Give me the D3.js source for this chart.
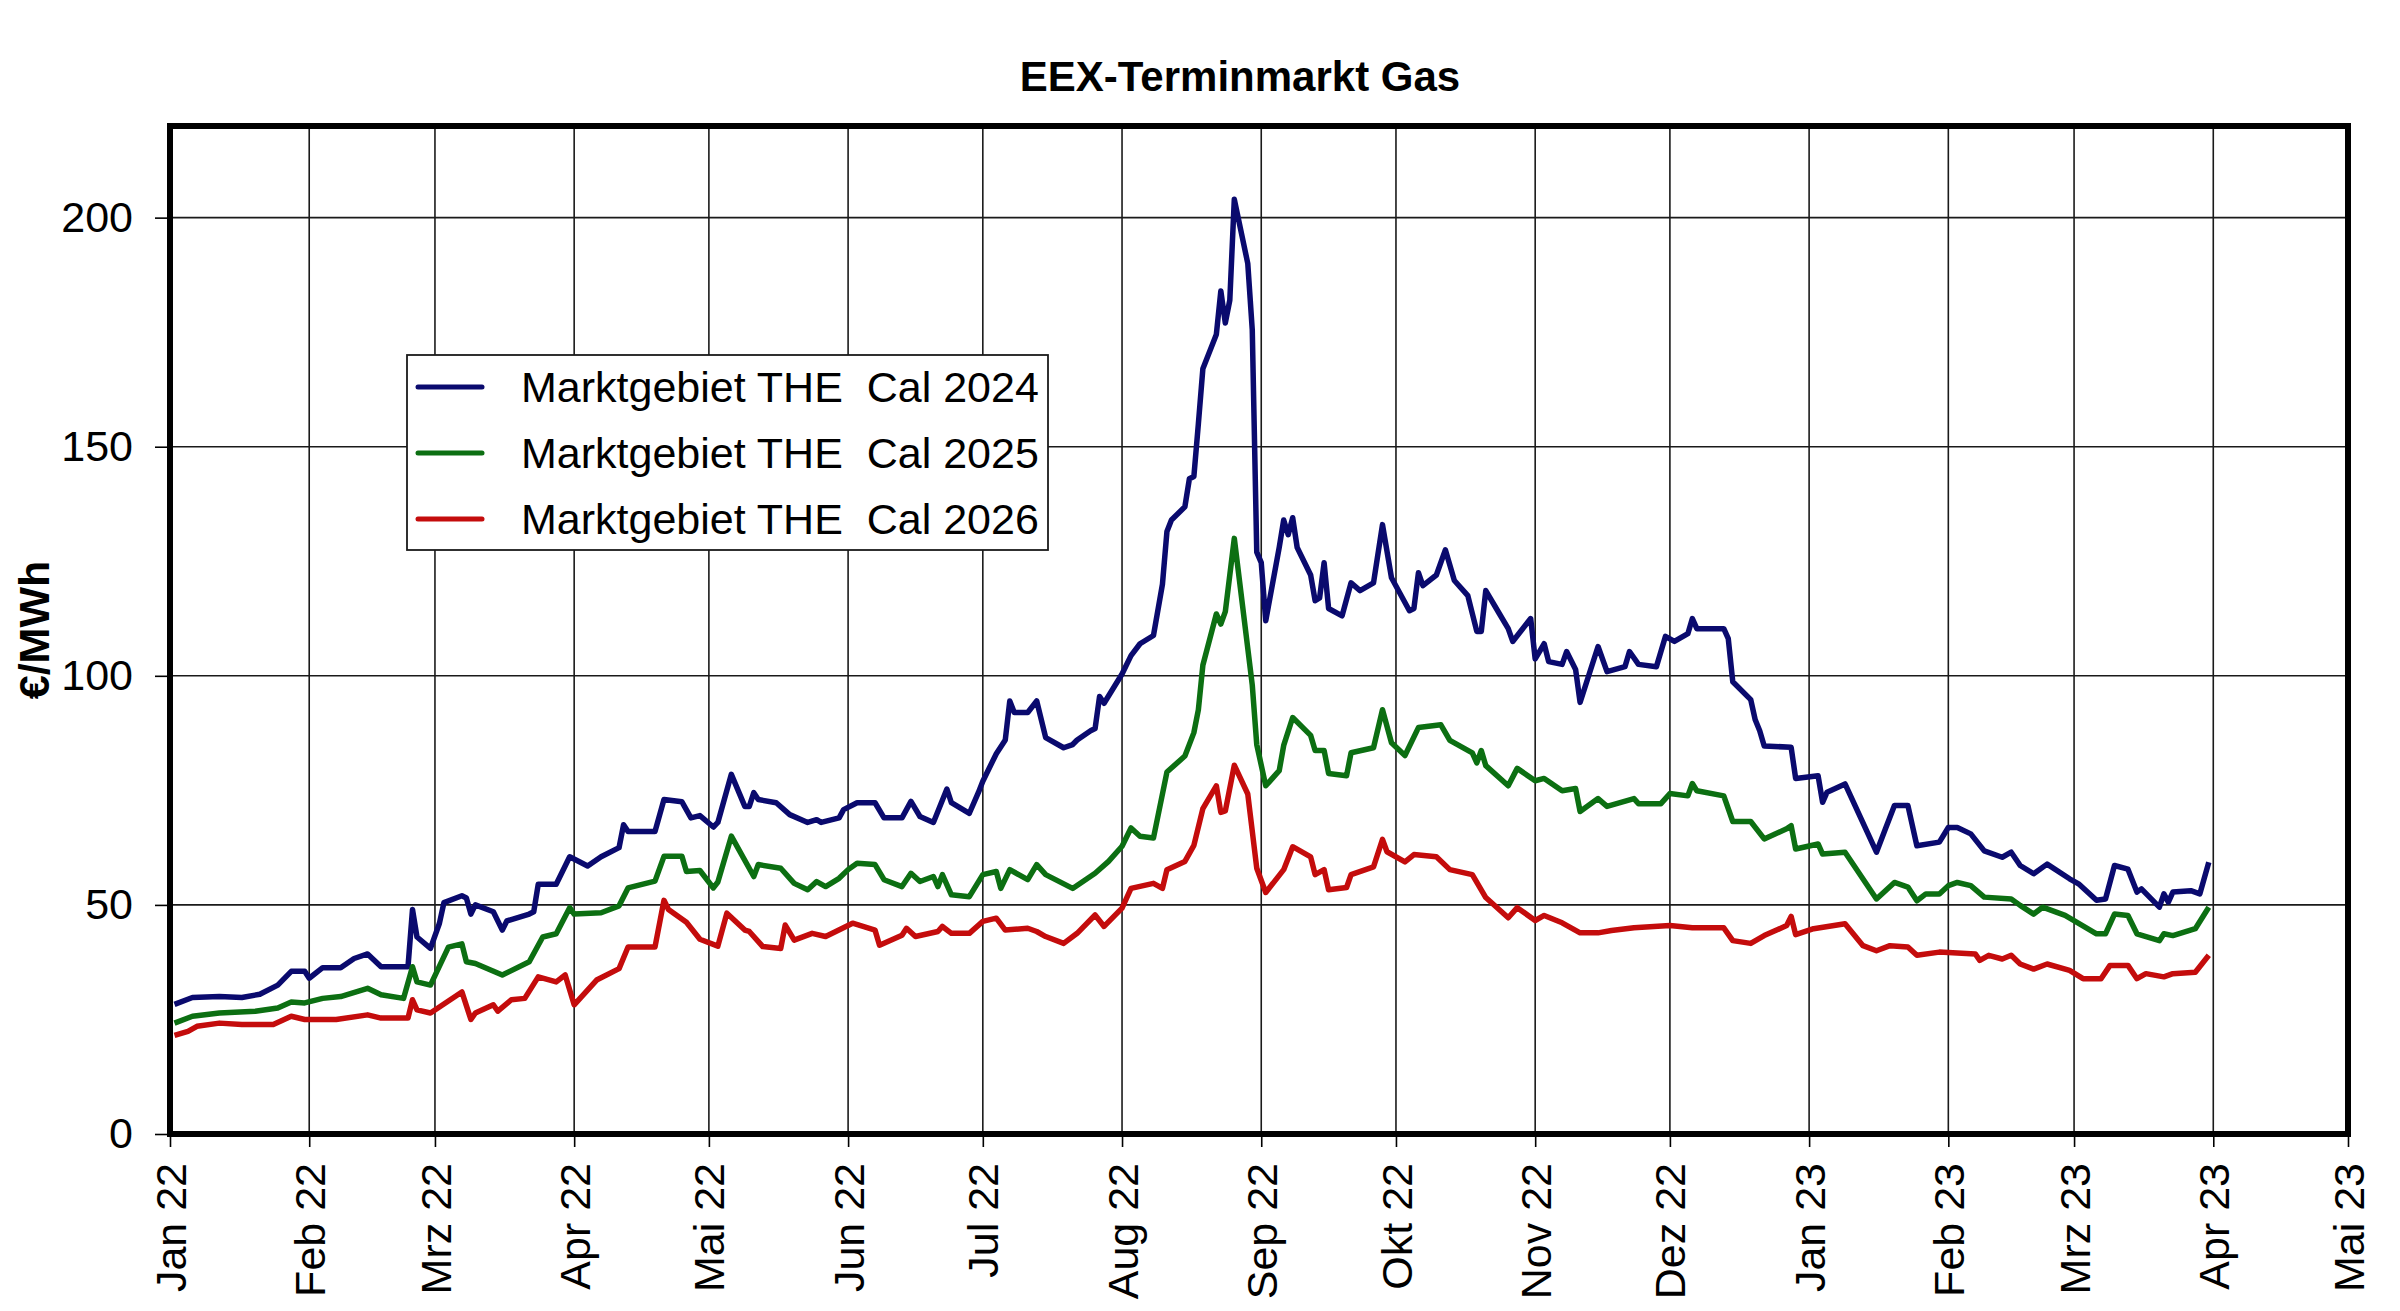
<!DOCTYPE html>
<html>
<head>
<meta charset="utf-8">
<script src="https://cdn.jsdelivr.net/npm/d3@7"></script>
<style>
  html, body { margin: 0; padding: 0; background: #fff; }
  svg { display: block; font-family: Arial, "Liberation Sans", sans-serif; }
</style>
</head>
<body>
<svg id="chart" width="2400" height="1311"></svg>
<script>
// Chart data
const chartTitle = 'EEX-Terminmarkt Gas'
const yTitle = '€/MWh'
const seriesNames = ['Marktgebiet THE  Cal 2024', 'Marktgebiet THE  Cal 2025', 'Marktgebiet THE  Cal 2026']
const seriesColors = ['#0a0a6e', '#0c6f12', '#c40c0c']
const monthLabels = ['Jan', 'Feb', 'Mrz', 'Apr', 'Mai', 'Jun', 'Jul', 'Aug', 'Sep', 'Okt', 'Nov', 'Dez']
const yTicks = [0, 50, 100, 150, 200]

const cal2024 = [
  ['2022-01-02', 28.3], ['2022-01-06', 29.8], ['2022-01-12', 30], ['2022-01-17', 29.8], ['2022-01-21', 30.5],
  ['2022-01-25', 32.5], ['2022-01-28', 35.5], ['2022-01-31', 35.5], ['2022-02-01', 34], ['2022-02-04', 36.3],
  ['2022-02-08', 36.3], ['2022-02-11', 38.3], ['2022-02-14', 39.3], ['2022-02-17', 36.5], ['2022-02-23', 36.5],
  ['2022-02-24', 49], ['2022-02-25', 43], ['2022-02-28', 40.5], ['2022-03-02', 46], ['2022-03-03', 50.5],
  ['2022-03-07', 52], ['2022-03-08', 51.5], ['2022-03-09', 48], ['2022-03-10', 50], ['2022-03-14', 48.5],
  ['2022-03-16', 44.5], ['2022-03-17', 46.5], ['2022-03-22', 48], ['2022-03-23', 48.5], ['2022-03-24', 54.5],
  ['2022-03-28', 54.5], ['2022-03-31', 60.5], ['2022-04-04', 58.5], ['2022-04-07', 60.5], ['2022-04-11', 62.5],
  ['2022-04-12', 67.5], ['2022-04-13', 66], ['2022-04-19', 66], ['2022-04-21', 73], ['2022-04-25', 72.5],
  ['2022-04-27', 69], ['2022-04-29', 69.5], ['2022-05-02', 67], ['2022-05-03', 68], ['2022-05-06', 78.5],
  ['2022-05-09', 71.5], ['2022-05-10', 71.5], ['2022-05-11', 74.5], ['2022-05-12', 73], ['2022-05-16', 72.3],
  ['2022-05-19', 69.7], ['2022-05-23', 68], ['2022-05-25', 68.6], ['2022-05-26', 68], ['2022-05-30', 69],
  ['2022-05-31', 70.8], ['2022-06-03', 72.3], ['2022-06-07', 72.3], ['2022-06-09', 69], ['2022-06-13', 69],
  ['2022-06-15', 72.6], ['2022-06-17', 69.3], ['2022-06-20', 68], ['2022-06-23', 75.3], ['2022-06-24', 72.3],
  ['2022-06-28', 70], ['2022-06-30', 74.5], ['2022-07-01', 77], ['2022-07-04', 83], ['2022-07-06', 86],
  ['2022-07-07', 94.5], ['2022-07-08', 92], ['2022-07-11', 92], ['2022-07-13', 94.5], ['2022-07-15', 86.5],
  ['2022-07-19', 84.3], ['2022-07-21', 85], ['2022-07-22', 86], ['2022-07-25', 88], ['2022-07-26', 88.5],
  ['2022-07-27', 95.5], ['2022-07-28', 94], ['2022-08-01', 100.4], ['2022-08-03', 104.4], ['2022-08-05', 107],
  ['2022-08-08', 108.8], ['2022-08-10', 120], ['2022-08-11', 131.5], ['2022-08-12', 134], ['2022-08-15', 136.9],
  ['2022-08-16', 143], ['2022-08-17', 143.5], ['2022-08-18', 155], ['2022-08-19', 167], ['2022-08-22', 174.5],
  ['2022-08-23', 184], ['2022-08-24', 177], ['2022-08-25', 182], ['2022-08-26', 204], ['2022-08-29', 190],
  ['2022-08-30', 175.5], ['2022-08-31', 127], ['2022-09-01', 124.7], ['2022-09-02', 112], ['2022-09-05', 128],
  ['2022-09-06', 134], ['2022-09-07', 130.8], ['2022-09-08', 134.5], ['2022-09-09', 128], ['2022-09-12', 122],
  ['2022-09-13', 116.4], ['2022-09-14', 117], ['2022-09-15', 124.7], ['2022-09-16', 114.7], ['2022-09-19', 113.1],
  ['2022-09-21', 120.3], ['2022-09-23', 118.6], ['2022-09-26', 120.3], ['2022-09-28', 133], ['2022-09-30', 121.4],
  ['2022-10-04', 114.2], ['2022-10-05', 114.7], ['2022-10-06', 122.5], ['2022-10-07', 119.7], ['2022-10-10', 122],
  ['2022-10-12', 127.5], ['2022-10-14', 120.8], ['2022-10-17', 117.5], ['2022-10-19', 109.7], ['2022-10-20', 109.7],
  ['2022-10-21', 118.6], ['2022-10-24', 113.6], ['2022-10-26', 110.3], ['2022-10-27', 107.5], ['2022-10-31', 112.5],
  ['2022-11-01', 103.7], ['2022-11-03', 107], ['2022-11-04', 103.1], ['2022-11-07', 102.5], ['2022-11-08', 105.3],
  ['2022-11-10', 101.4], ['2022-11-11', 94.2], ['2022-11-15', 106.4], ['2022-11-17', 100.9], ['2022-11-21', 102],
  ['2022-11-22', 105.3], ['2022-11-24', 102.5], ['2022-11-28', 102], ['2022-11-30', 108.6], ['2022-12-02', 107.5],
  ['2022-12-05', 109.2], ['2022-12-06', 112.5], ['2022-12-07', 110.3], ['2022-12-13', 110.3], ['2022-12-14', 108.1],
  ['2022-12-15', 98.7], ['2022-12-19', 94.8], ['2022-12-20', 90.4], ['2022-12-21', 88], ['2022-12-22', 84.7],
  ['2022-12-28', 84.4], ['2022-12-29', 77.6], ['2023-01-03', 78.2], ['2023-01-04', 72.4], ['2023-01-05', 74.6],
  ['2023-01-09', 76.4], ['2023-01-16', 61.5], ['2023-01-18', 66.6], ['2023-01-20', 71.7], ['2023-01-23', 71.7],
  ['2023-01-25', 62.9], ['2023-01-30', 63.7], ['2023-02-01', 66.9], ['2023-02-03', 66.9], ['2023-02-06', 65.5],
  ['2023-02-09', 61.8], ['2023-02-13', 60.4], ['2023-02-15', 61.5], ['2023-02-17', 58.6], ['2023-02-20', 56.8],
  ['2023-02-23', 58.9], ['2023-02-28', 55.7], ['2023-03-02', 54.6], ['2023-03-06', 51], ['2023-03-08', 51.3],
  ['2023-03-10', 58.6], ['2023-03-13', 57.8], ['2023-03-15', 52.8], ['2023-03-16', 53.5], ['2023-03-20', 49.5],
  ['2023-03-21', 52.4], ['2023-03-22', 50.6], ['2023-03-23', 52.8], ['2023-03-27', 53.1], ['2023-03-29', 52.4],
  ['2023-03-31', 59.3]
]

const cal2025 = [
  ['2022-01-02', 24.2], ['2022-01-06', 25.7], ['2022-01-12', 26.4], ['2022-01-20', 26.8], ['2022-01-25', 27.5],
  ['2022-01-28', 28.8], ['2022-01-31', 28.6], ['2022-02-04', 29.6], ['2022-02-08', 30], ['2022-02-14', 31.8],
  ['2022-02-17', 30.4], ['2022-02-22', 29.6], ['2022-02-24', 36.5], ['2022-02-25', 33.2], ['2022-02-28', 32.5],
  ['2022-03-04', 40.8], ['2022-03-07', 41.5], ['2022-03-08', 37.6], ['2022-03-10', 37.2], ['2022-03-16', 34.7],
  ['2022-03-22', 37.6], ['2022-03-25', 43], ['2022-03-28', 43.7], ['2022-03-31', 49.4], ['2022-04-01', 48],
  ['2022-04-07', 48.3], ['2022-04-11', 49.8], ['2022-04-13', 53.7], ['2022-04-19', 55.2], ['2022-04-21', 60.6],
  ['2022-04-25', 60.6], ['2022-04-26', 57.3], ['2022-04-29', 57.5], ['2022-05-02', 53.7], ['2022-05-03', 55],
  ['2022-05-06', 65], ['2022-05-11', 56.2], ['2022-05-12', 58.8], ['2022-05-17', 58], ['2022-05-20', 54.7],
  ['2022-05-23', 53.3], ['2022-05-25', 55.1], ['2022-05-27', 54], ['2022-05-30', 55.8], ['2022-06-01', 57.7],
  ['2022-06-03', 59.1], ['2022-06-07', 58.8], ['2022-06-09', 55.5], ['2022-06-13', 54], ['2022-06-15', 56.9],
  ['2022-06-17', 55.1], ['2022-06-20', 56.2], ['2022-06-21', 54], ['2022-06-22', 56.6], ['2022-06-24', 52.2],
  ['2022-06-28', 51.8], ['2022-07-01', 56.6], ['2022-07-04', 57.3], ['2022-07-05', 53.6], ['2022-07-07', 57.7],
  ['2022-07-11', 55.5], ['2022-07-13', 58.8], ['2022-07-15', 56.6], ['2022-07-21', 53.6], ['2022-07-26', 56.9],
  ['2022-07-29', 59.5], ['2022-08-01', 62.8], ['2022-08-03', 66.8], ['2022-08-05', 65], ['2022-08-08', 64.6],
  ['2022-08-11', 79], ['2022-08-15', 82.5], ['2022-08-17', 87.6], ['2022-08-18', 92.6], ['2022-08-19', 102.3],
  ['2022-08-22', 113.5], ['2022-08-23', 111.3], ['2022-08-24', 114], ['2022-08-26', 130], ['2022-08-30', 98],
  ['2022-08-31', 85], ['2022-09-02', 76], ['2022-09-05', 79.3], ['2022-09-06', 84.8], ['2022-09-08', 90.9],
  ['2022-09-12', 87], ['2022-09-13', 83.7], ['2022-09-15', 83.7], ['2022-09-16', 78.7], ['2022-09-20', 78.2],
  ['2022-09-21', 83.2], ['2022-09-26', 84.3], ['2022-09-28', 92.6], ['2022-09-30', 85.4], ['2022-10-03', 82.6],
  ['2022-10-06', 88.7], ['2022-10-11', 89.3], ['2022-10-13', 85.9], ['2022-10-18', 83.2], ['2022-10-19', 81],
  ['2022-10-20', 83.7], ['2022-10-21', 80.4], ['2022-10-26', 76], ['2022-10-28', 79.8], ['2022-11-01', 77.1],
  ['2022-11-03', 77.6], ['2022-11-07', 74.9], ['2022-11-10', 75.4], ['2022-11-11', 70.4], ['2022-11-15', 73.2],
  ['2022-11-17', 71.5], ['2022-11-23', 73.2], ['2022-11-24', 72.1], ['2022-11-29', 72.1], ['2022-12-01', 74.3],
  ['2022-12-05', 73.8], ['2022-12-06', 76.5], ['2022-12-07', 74.9], ['2022-12-13', 73.8], ['2022-12-15', 68.2],
  ['2022-12-19', 68.2], ['2022-12-22', 64.4], ['2022-12-27', 66.6], ['2022-12-28', 67.3], ['2022-12-29', 62.2],
  ['2023-01-03', 63.3], ['2023-01-04', 61.1], ['2023-01-09', 61.5], ['2023-01-16', 51.3], ['2023-01-20', 54.9],
  ['2023-01-23', 53.9], ['2023-01-25', 50.9], ['2023-01-27', 52.4], ['2023-01-30', 52.4], ['2023-02-01', 54.2],
  ['2023-02-03', 54.9], ['2023-02-06', 54.2], ['2023-02-09', 51.7], ['2023-02-15', 51.3], ['2023-02-17', 49.9],
  ['2023-02-20', 48], ['2023-02-22', 49.5], ['2023-02-27', 47.7], ['2023-03-06', 43.7], ['2023-03-08', 43.7],
  ['2023-03-10', 48], ['2023-03-13', 47.7], ['2023-03-15', 43.7], ['2023-03-20', 42.2], ['2023-03-21', 43.7],
  ['2023-03-23', 43.3], ['2023-03-28', 44.8], ['2023-03-31', 49.5]
]

const cal2026 = [
  ['2022-01-02', 21.5], ['2022-01-05', 22.4], ['2022-01-07', 23.5], ['2022-01-12', 24.2], ['2022-01-17', 23.9],
  ['2022-01-24', 23.9], ['2022-01-28', 25.7], ['2022-01-31', 25], ['2022-02-07', 25], ['2022-02-14', 26],
  ['2022-02-17', 25.3], ['2022-02-23', 25.3], ['2022-02-24', 29.3], ['2022-02-25', 27.1], ['2022-02-28', 26.4],
  ['2022-03-07', 31], ['2022-03-09', 25], ['2022-03-10', 26.4], ['2022-03-14', 28.2], ['2022-03-15', 26.8],
  ['2022-03-18', 29.3], ['2022-03-21', 29.6], ['2022-03-24', 34.3], ['2022-03-28', 33.2], ['2022-03-30', 34.7],
  ['2022-04-01', 28.2], ['2022-04-06', 33.6], ['2022-04-11', 36.1], ['2022-04-13', 40.8], ['2022-04-19', 40.8],
  ['2022-04-21', 51], ['2022-04-22', 49], ['2022-04-26', 46.2], ['2022-04-29', 42.5], ['2022-05-03', 41],
  ['2022-05-05', 48.2], ['2022-05-09', 44.5], ['2022-05-10', 44.2], ['2022-05-13', 40.9], ['2022-05-17', 40.5],
  ['2022-05-18', 45.6], ['2022-05-20', 42.3], ['2022-05-24', 43.8], ['2022-05-27', 43.1], ['2022-06-02', 46],
  ['2022-06-07', 44.5], ['2022-06-08', 41.2], ['2022-06-13', 43.4], ['2022-06-14', 44.9], ['2022-06-16', 43.1],
  ['2022-06-21', 44.2], ['2022-06-22', 45.3], ['2022-06-24', 43.8], ['2022-06-28', 43.8], ['2022-07-01', 46.4],
  ['2022-07-04', 47.1], ['2022-07-06', 44.5], ['2022-07-11', 44.9], ['2022-07-13', 44.2], ['2022-07-15', 43.1],
  ['2022-07-19', 41.6], ['2022-07-22', 43.8], ['2022-07-26', 47.8], ['2022-07-28', 45.3], ['2022-08-01', 49.3],
  ['2022-08-03', 53.6], ['2022-08-08', 54.7], ['2022-08-10', 53.6], ['2022-08-11', 57.7], ['2022-08-15', 59.5],
  ['2022-08-17', 63], ['2022-08-19', 71], ['2022-08-22', 76], ['2022-08-23', 70.2], ['2022-08-24', 70.5],
  ['2022-08-26', 80.5], ['2022-08-29', 74.2], ['2022-08-31', 58], ['2022-09-02', 52.7], ['2022-09-06', 57.7],
  ['2022-09-08', 62.7], ['2022-09-12', 60.5], ['2022-09-13', 56.6], ['2022-09-15', 57.7], ['2022-09-16', 53.3],
  ['2022-09-20', 53.8], ['2022-09-21', 56.6], ['2022-09-26', 58.3], ['2022-09-28', 64.3], ['2022-09-29', 61.6],
  ['2022-10-03', 59.4], ['2022-10-05', 61], ['2022-10-10', 60.5], ['2022-10-13', 57.7], ['2022-10-18', 56.6],
  ['2022-10-21', 51.6], ['2022-10-26', 47.2], ['2022-10-28', 49.4], ['2022-11-01', 46.6], ['2022-11-03', 47.7],
  ['2022-11-07', 46.1], ['2022-11-11', 43.9], ['2022-11-15', 43.9], ['2022-11-18', 44.4], ['2022-11-23', 45],
  ['2022-12-01', 45.5], ['2022-12-06', 45], ['2022-12-13', 45], ['2022-12-15', 42.2], ['2022-12-19', 41.6],
  ['2022-12-22', 43.3], ['2022-12-27', 45.5], ['2022-12-28', 47.5], ['2022-12-29', 43.5], ['2023-01-02', 44.8],
  ['2023-01-09', 45.9], ['2023-01-13', 41.1], ['2023-01-16', 40], ['2023-01-19', 41.1], ['2023-01-23', 40.8],
  ['2023-01-25', 39], ['2023-01-30', 39.7], ['2023-02-07', 39.3], ['2023-02-08', 37.9], ['2023-02-10', 39],
  ['2023-02-13', 38.2], ['2023-02-15', 39], ['2023-02-17', 37.1], ['2023-02-20', 36], ['2023-02-23', 37.1],
  ['2023-02-28', 35.7], ['2023-03-03', 33.9], ['2023-03-07', 33.9], ['2023-03-09', 36.8], ['2023-03-13', 36.8],
  ['2023-03-15', 33.9], ['2023-03-17', 35], ['2023-03-21', 34.3], ['2023-03-23', 35], ['2023-03-28', 35.3],
  ['2023-03-31', 39]
]

const parseDate = d3.timeParse('%Y-%m-%d')
const series = [cal2024, cal2025, cal2026].map((rows, i) => ({
    name: seriesNames[i],
    color: seriesColors[i],
    values: rows.map(([d, v]) => ({ date: parseDate(d), value: v }))
}))

// Layout
const plot = { left: 170, right: 2348, top: 126, bottom: 1134 }
const fontSize = 43

const svg = d3.select('#chart')

const x = d3.scaleTime()
    .domain([new Date(2022, 0, 1), new Date(2023, 4, 1)])
    .range([plot.left, plot.right])

const y = d3.scaleLinear()
    .domain([0, 220])
    .range([plot.bottom, plot.top])

const monthTicks = d3.timeMonth.range(new Date(2022, 0, 1), new Date(2023, 4, 2))
const fmtMonth = d => `${monthLabels[d.getMonth()]} ${String(d.getFullYear()).slice(2)}`

// Grid
svg.append('g')
    .selectAll('line')
    .data(monthTicks)
    .join('line')
    .attr('x1', d => x(d)).attr('x2', d => x(d))
    .attr('y1', plot.top).attr('y2', plot.bottom)
    .attr('stroke', '#1a1a1a')
    .attr('stroke-width', 1.6)

svg.append('g')
    .selectAll('line')
    .data(yTicks)
    .join('line')
    .attr('x1', plot.left).attr('x2', plot.right)
    .attr('y1', d => y(d)).attr('y2', d => y(d))
    .attr('stroke', '#1a1a1a')
    .attr('stroke-width', 1.6)

// Axes
const yAxis = svg.append('g')
    .attr('transform', `translate(${plot.left},0)`)
    .call(d3.axisLeft(y).tickValues(yTicks).tickSize(15).tickPadding(22))
yAxis.select('.domain').remove()
yAxis.selectAll('.tick line').attr('stroke', '#000').attr('stroke-width', 1.6)
yAxis.selectAll('.tick text')
    .attr('font-size', fontSize)
    .attr('font-family', 'Arial, "Liberation Sans", sans-serif')
    .attr('fill', '#000')

const xAxis = svg.append('g')
    .attr('transform', `translate(0,${plot.bottom})`)
    .call(d3.axisBottom(x).tickValues(monthTicks).tickFormat(fmtMonth).tickSize(13))
xAxis.select('.domain').remove()
xAxis.selectAll('.tick line').attr('stroke', '#000').attr('stroke-width', 1.6)
xAxis.selectAll('.tick text')
    .attr('font-size', fontSize)
    .attr('font-family', 'Arial, "Liberation Sans", sans-serif')
    .attr('fill', '#000')
    .attr('text-anchor', 'end')
    .attr('transform', 'rotate(-90)')
    .attr('x', -29)
    .attr('y', 0)
    .attr('dy', '0.35em')

// Series
const line = d3.line()
    .x(d => x(d.date))
    .y(d => y(d.value))

svg.append('g')
    .selectAll('path')
    .data(series)
    .join('path')
    .attr('d', d => line(d.values))
    .attr('fill', 'none')
    .attr('stroke', d => d.color)
    .attr('stroke-width', 5.5)
    .attr('stroke-linejoin', 'round')

// Frame
svg.append('rect')
    .attr('x', plot.left).attr('y', plot.top)
    .attr('width', plot.right - plot.left)
    .attr('height', plot.bottom - plot.top)
    .attr('fill', 'none')
    .attr('stroke', '#000')
    .attr('stroke-width', 6)

// Legend
const legend = svg.append('g')
legend.append('rect')
    .attr('x', 407).attr('y', 355)
    .attr('width', 641).attr('height', 195)
    .attr('fill', '#fff')
    .attr('stroke', '#1a1a1a')
    .attr('stroke-width', 1.8)

const legendRows = legend.selectAll('g.row')
    .data(series)
    .join('g')
    .attr('class', 'row')
    .attr('transform', (d, i) => `translate(0,${387 + i * 66})`)

legendRows.append('line')
    .attr('x1', 418).attr('x2', 482)
    .attr('stroke', d => d.color)
    .attr('stroke-width', 5)
    .attr('stroke-linecap', 'round')

legendRows.append('text')
    .attr('x', 521)
    .attr('dy', '0.35em')
    .attr('font-size', fontSize)
    .attr('fill', '#000')
    .style('white-space', 'pre')
    .text(d => d.name)

// Titles
svg.append('text')
    .attr('x', 1240).attr('y', 91)
    .attr('text-anchor', 'middle')
    .attr('font-size', 42)
    .attr('font-weight', 'bold')
    .text(chartTitle)

svg.append('text')
    .attr('transform', `translate(34,${(plot.top + plot.bottom) / 2}) rotate(-90)`)
    .attr('text-anchor', 'middle')
    .attr('dy', '0.35em')
    .attr('font-size', fontSize)
    .attr('font-weight', 'bold')
    .text(yTitle)
</script>
</body>
</html>
